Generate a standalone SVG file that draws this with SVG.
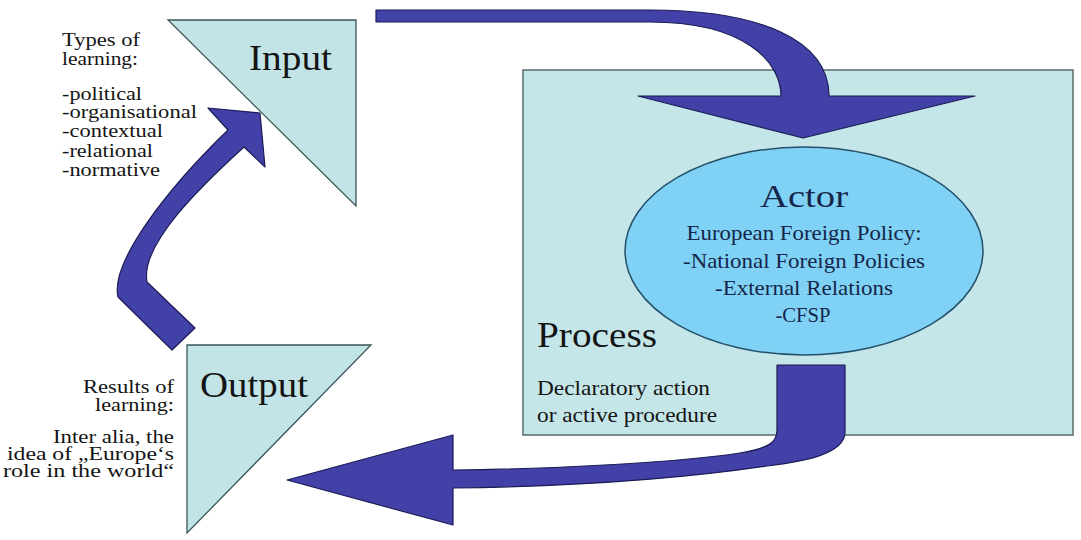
<svg xmlns="http://www.w3.org/2000/svg" width="1081" height="540" viewBox="0 0 1081 540">
<defs>
<style>
.bg{fill:#ffffff}
.tri{fill:#c3e4e7;stroke:#3a5555;stroke-width:1.3}
.box{fill:#c5e6e9;stroke:#5a6b6b;stroke-width:1.5}
.ell{fill:#7fd2f5;stroke:#24506a;stroke-width:1.5}
.arrow{fill:#4141a8;stroke:#1c1c55;stroke-width:1.2;stroke-linejoin:round}
text{font-family:"Liberation Serif","Times New Roman",serif;fill:#141414}
.big{font-size:36px}
.small{font-size:21px}
.lab{font-size:19.5px}
.ellt{fill:#16264a;text-anchor:middle}
.r{text-anchor:end}
</style>
</defs>
<rect class="bg" x="0" y="0" width="1081" height="540"/>

<g id="process">
<rect class="box" x="523" y="70" width="550" height="365"/>
<text class="big" x="537" y="347" font-size="34" textLength="120" lengthAdjust="spacingAndGlyphs">Process</text>
<text class="small" x="537" y="395" textLength="173" lengthAdjust="spacingAndGlyphs">Declaratory action</text>
<text class="small" x="537" y="422" textLength="180" lengthAdjust="spacingAndGlyphs">or active procedure</text>
</g>

<g id="input">
<polygon class="tri" points="168,20 356,20 356,206"/>
<text class="big" x="249" y="70" font-size="37" textLength="83" lengthAdjust="spacingAndGlyphs">Input</text>
</g>

<g id="input-labels">
<text class="lab" x="62" y="46" textLength="78" lengthAdjust="spacingAndGlyphs">Types of</text>
<text class="lab" x="62" y="65" textLength="76" lengthAdjust="spacingAndGlyphs">learning:</text>
<text class="lab" x="62" y="100" textLength="80" lengthAdjust="spacingAndGlyphs">-political</text>
<text class="lab" x="62" y="118" textLength="135" lengthAdjust="spacingAndGlyphs">-organisational</text>
<text class="lab" x="62" y="137" textLength="101" lengthAdjust="spacingAndGlyphs">-contextual</text>
<text class="lab" x="62" y="157" textLength="91" lengthAdjust="spacingAndGlyphs">-relational</text>
<text class="lab" x="62" y="176" textLength="98" lengthAdjust="spacingAndGlyphs">-normative</text>
</g>

<g id="output">
<polygon class="tri" points="187,345 371,345 187,533"/>
<text class="big" x="200" y="397" textLength="108" lengthAdjust="spacingAndGlyphs">Output</text>
</g>

<g id="output-labels">
<text class="lab r" x="174" y="393" textLength="91" lengthAdjust="spacingAndGlyphs">Results of</text>
<text class="lab r" x="174" y="411" textLength="79" lengthAdjust="spacingAndGlyphs">learning:</text>
<text class="lab r" x="174" y="443" textLength="121" lengthAdjust="spacingAndGlyphs">Inter alia, the</text>
<text class="lab r" x="174" y="460" textLength="167" lengthAdjust="spacingAndGlyphs">idea of „Europe‘s</text>
<text class="lab r" x="174" y="477" textLength="171" lengthAdjust="spacingAndGlyphs">role in the world“</text>
</g>

<g id="connectors">
<path class="arrow" d="M376,10 L650,10 C760,10 829,40 829,96 L975,96 L803,138 L638,96 L781,96 C781,62 745,22 650,22 L376,22 Z"/>
<path class="arrow" d="M777,365 L845,365 L845,432 C845,455 800,462 767,466 C700,476 600,486 453,488 L453,525 L287,480 L453,435 L453,470 C560,469 680,462 740,453 C770,448 777,442 777,430 Z"/>
<path class="arrow" d="M172,350 L118,297 C110,262 168,188 228,130 L208,108 L260,113 L265,167 L244,147 C200,187 140,245 147,282 L195,328 Z"/>
</g>

<g id="actor">
<ellipse class="ell" cx="804" cy="251" rx="179" ry="104"/>
<text class="ellt" x="804" y="207" font-size="32" textLength="88" lengthAdjust="spacingAndGlyphs">Actor</text>
<text class="ellt small" x="804" y="240" textLength="235" lengthAdjust="spacingAndGlyphs">European Foreign Policy:</text>
<text class="ellt small" x="804" y="268" textLength="242" lengthAdjust="spacingAndGlyphs">-National Foreign Policies</text>
<text class="ellt small" x="804" y="295" textLength="178" lengthAdjust="spacingAndGlyphs">-External Relations</text>
<text class="ellt small" x="803" y="322" textLength="55" lengthAdjust="spacingAndGlyphs">-CFSP</text>
</g>
</svg>
